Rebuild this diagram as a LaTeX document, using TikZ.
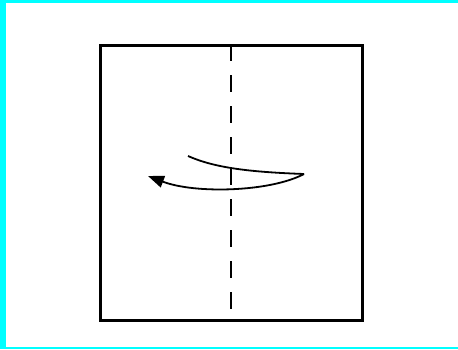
\documentclass[tikz,border=0pt]{standalone}
\usetikzlibrary{arrows.meta}
\definecolor{framecyan}{RGB}{0,255,255}

\begin{document}
\begin{tikzpicture}[x=1pt,y=-1pt,
  paper/.style={draw, line width=3pt},
  foldline/.style={draw, line width=2.4pt, dash pattern=on 17pt off 14pt},
  foldarrow/.style={draw, line width=1.8pt},
  >={Triangle[length=16pt,width=12pt]}
]
\useasboundingbox (0,0) rectangle (458,349);
% frame
\fill[framecyan] (0,0) rectangle (6,349);
\fill[framecyan] (0,0) rectangle (458,3);
\fill[framecyan] (0,347) rectangle (458,349);

% sheet
\draw[paper] (100,45) rectangle (362,320);
\coordinate (top) at (231,47);
\coordinate (bot) at (231,318);
\draw[foldline] ([yshift=3pt]top) -- (bot);

% arrow
\coordinate (start) at (188,156);
\coordinate (tip) at (304,174);
\coordinate (end) at (148,176);
\draw[foldarrow] (start) .. controls (215,168) and (250,172) .. (tip);
\draw[foldarrow,->] (tip) .. controls (270,192) and (195,194) .. (end);
\end{tikzpicture}
\end{document}
